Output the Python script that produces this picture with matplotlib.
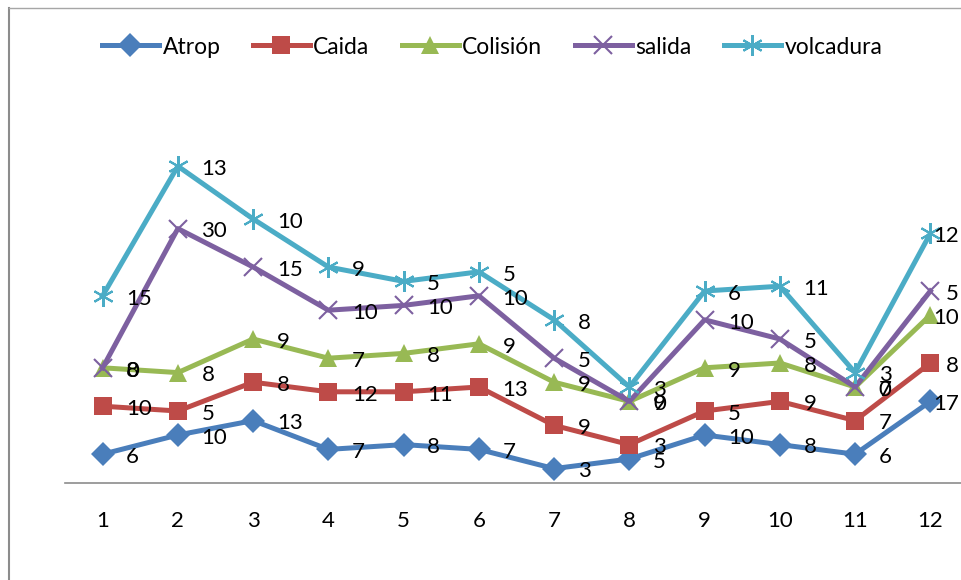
import matplotlib.pyplot as plt
import numpy as np

plt.rcParams['font.family'] = ['Lato', 'DejaVu Sans']

meses = [1, 2, 3, 4, 5, 6, 7, 8, 9, 10, 11, 12]
atrop = [6, 10, 13, 7, 8, 7, 3, 5, 10, 8, 6, 17]
caida = [10, 5, 8, 12, 11, 13, 9, 3, 5, 9, 7, 8]
colision = [8, 8, 9, 7, 8, 9, 9, 9, 9, 8, 7, 10]
salida = [0, 30, 15, 10, 10, 10, 5, 0, 10, 5, 0, 5]
volcadura = [15, 13, 10, 9, 5, 5, 8, 3, 6, 11, 3, 12]

series = [
    ('Atrop', atrop, '#4A7EBB', 'D', 12),
    ('Caida', caida, '#BE4B48', 's', 13),
    ('Colisión', colision, '#98B954', '^', 13),
    ('salida', salida, '#7D60A0', 'x', 13),
    ('volcadura', volcadura, '#4BACC6', (6, 2, 0), 15),
]

fig = plt.figure(figsize=(9.61, 5.80), dpi=100)

# borde del grafico (solo se ven el lado izquierdo y el superior)
fig.add_artist(plt.Line2D([8.5 / 961, 8.5 / 961], [0, 1 - 7.5 / 580], color='#8C8C8C', lw=1.5))
fig.add_artist(plt.Line2D([8.5 / 961, 1], [1 - 7.5 / 580, 1 - 7.5 / 580], color='#A6A6A6', lw=1.0))

ax = fig.add_axes([65 / 961, 97 / 580, 903 / 961, 336 / 580])

# lineas apiladas: cada serie se dibuja sobre la suma de las anteriores
acum = np.zeros(len(meses))
for nombre, valores, color, marca, tam in series:
    acum = acum + np.array(valores)
    ax.plot(meses, acum, color=color, lw=3.6, marker=marca, markersize=tam,
            markeredgewidth=1.5 if marca in ('x', (6, 2, 0)) else 0,
            markeredgecolor=color, label=nombre, clip_on=False)
    for x, y, v in zip(meses, acum, valores):
        if x == meses[-1]:
            # la ultima etiqueta se pega al borde para que no se corte
            ax.annotate(str(v), (x, y), xytext=(20.5, -2), textcoords='offset points',
                        ha='right', va='center', fontsize=16, color='black')
        else:
            ax.annotate(str(v), (x, y), xytext=(17, -2), textcoords='offset points',
                        ha='left', va='center', fontsize=16, color='black')

ax.set_xlim(0.5, 12.5)
ax.set_ylim(0, 70)
ax.set_xticks(meses)
ax.tick_params(axis='x', length=0, pad=20, labelsize=16)
ax.set_yticks([])
for lado in ('top', 'right', 'left'):
    ax.spines[lado].set_visible(False)
ax.spines['bottom'].set_color('#8C8C8C')
ax.spines['bottom'].set_linewidth(1.2)
ax.patch.set_alpha(0)

fig.legend(loc='center', bbox_to_anchor=(492 / 961, 1 - 47 / 580), ncol=5,
           frameon=False, fontsize=16.5, handlelength=2.5, handletextpad=0.15,
           columnspacing=1.4)

fig.savefig('out.png', dpi=100)
